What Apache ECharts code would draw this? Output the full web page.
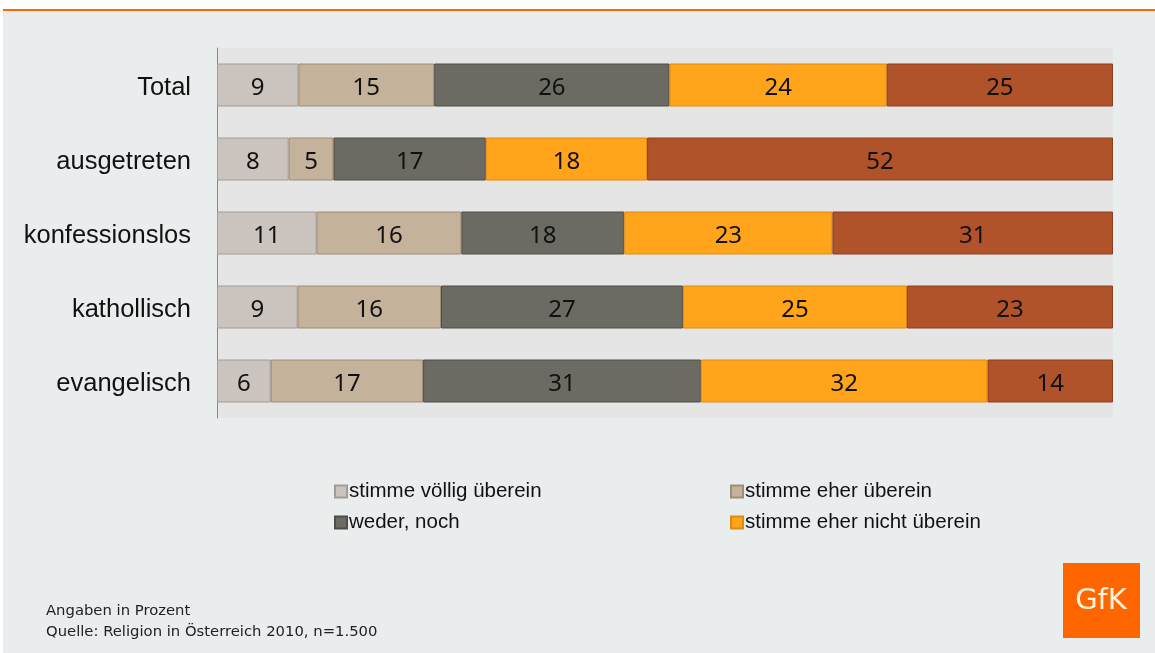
<!DOCTYPE html>
<html>
<head>
<meta charset="utf-8">
<script src="https://cdn.jsdelivr.net/npm/echarts@6/dist/echarts.min.js"></script>
<style>
  html, body { margin: 0; padding: 0; background: #fff; }
  #main { width: 1155px; height: 653px; }
</style>
</head>
<body>
<div id="main"></div>
<script>
const categories = ['Total', 'ausgetreten', 'konfessionslos', 'kathollisch', 'evangelisch']
const seriesNames = ['stimme völlig überein', 'stimme eher überein', 'weder, noch', 'stimme eher nicht überein', 'stimme gar nicht überein']
const voellig = [9, 8, 11, 9, 6]
const eher = [15, 5, 16, 16, 17]
const weder = [26, 17, 18, 27, 31]
const eherNicht = [24, 18, 23, 25, 32]
const garNicht = [25, 52, 31, 23, 14]
const colors = ['#cbc3be', '#c4b29a', '#6b6b63', '#ffa41b', '#b0522a']
const borders = ['#a39c97', '#9e8e78', '#4f4f49', '#e08a10', '#8e3f1e']

const values = [voellig, eher, weder, eherNicht, garNicht]
// each row is a 100% bar, so share of row total
const rowSums = categories.map((c, i) => values.reduce((acc, v) => acc + v[i], 0))

const legendText = { fontFamily: 'Liberation Sans', fontSize: 20.5, color: '#111', padding: [0, 0, 0, -3] }

const chart = echarts.init(document.getElementById('main'))
const option = {
  backgroundColor: '#fff',
  animation: false,
  grid: {
    left: 217,
    top: 48,
    width: 896,
    height: 370,
    show: true,
    backgroundColor: '#e5e5e5',
    borderWidth: 0
  },
  legend: [
    {
      left: 329,
      top: 476,
      orient: 'vertical',
      icon: 'rect',
      itemGap: 10,
      itemWidth: 12,
      itemHeight: 12,
      data: [seriesNames[0], seriesNames[2]],
      textStyle: legendText
    },
    {
      left: 725,
      top: 476,
      orient: 'vertical',
      icon: 'rect',
      itemGap: 10,
      itemWidth: 12,
      itemHeight: 12,
      data: [seriesNames[1], seriesNames[3]],
      textStyle: legendText
    }
  ],
  xAxis: {
    type: 'value',
    min: 0,
    max: 100,
    show: false
  },
  yAxis: {
    type: 'category',
    inverse: true,
    data: categories,
    axisLine: { show: true, lineStyle: { color: '#888', width: 1 } },
    axisTick: { show: false },
    axisLabel: {
      margin: 26,
      formatter: v => '{c|' + v + '}',
      rich: {
        c: { fontFamily: 'Liberation Sans', fontSize: 25.5, color: '#111', padding: [6, 0, 0, 0] }
      }
    }
  },
  series: seriesNames.map((name, s) => ({
    name: name,
    type: 'bar',
    stack: 'total',
    barWidth: 43,
    itemStyle: { color: colors[s], borderColor: borders[s], borderWidth: 1 },
    label: {
      show: true,
      position: 'inside',
      offset: [0, 3],
      fontFamily: 'Noto Sans',
      fontSize: 24,
      color: '#111',
      formatter: p => values[s][p.dataIndex]
    },
    data: values[s].map((v, i) => v / rowSums[i] * 100)
  })),
  graphic: [
    { type: 'rect', z: -10, shape: { x: 3, y: 11, width: 1152, height: 642 }, style: { fill: '#e9edee' } },
    { type: 'rect', z: -9, shape: { x: 3, y: 9, width: 1152, height: 2 }, style: { fill: '#ff6600' } },
    { type: 'text', left: 46, top: 604, style: { text: 'Angaben in Prozent', fontFamily: 'DejaVu Sans', fontSize: 14.8, fill: '#222' } },
    { type: 'text', left: 46, top: 625, style: { text: 'Quelle: Religion in Österreich 2010, n=1.500', fontFamily: 'DejaVu Sans', fontSize: 14.8, fill: '#222' } },
    { type: 'rect', shape: { x: 1063, y: 563, width: 77, height: 75 }, style: { fill: '#ff6600' } },
    { type: 'text', x: 1101, y: 601, style: { text: 'GfK', fontFamily: 'DejaVu Sans', fontSize: 29, fill: '#fff3dc', align: 'center', verticalAlign: 'middle' } }
  ]
}
chart.setOption(option)
</script>
</body>
</html>
